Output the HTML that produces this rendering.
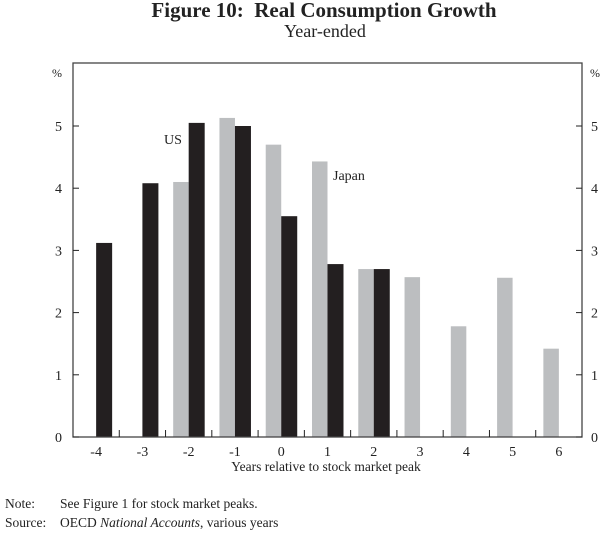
<!DOCTYPE html>
<html><head><meta charset="utf-8"><style>
body{margin:0;background:#fff;}
svg text{font-family:"Liberation Serif",serif;fill:#222;}
</style></head><body>
<svg width="600" height="535" id="c">
<text x="324" y="17" text-anchor="middle" font-size="21" font-weight="bold">Figure 10:&#160; Real Consumption Growth</text>
<text x="325" y="37" text-anchor="middle" font-size="18">Year-ended</text>
<g id="plot"></g>
<text x="326" y="471" text-anchor="middle" font-size="13.5">Years relative to stock market peak</text>
<text x="5" y="508" font-size="13.5">Note:</text>
<text x="60" y="508" font-size="13.5">See Figure 1 for stock market peaks.</text>
<text x="5" y="527" font-size="13.5">Source:</text>
<text x="60" y="527" font-size="13.5">OECD <tspan font-style="italic">National Accounts</tspan>, various years</text>
</svg>
<script>
const categories=[-4,-3,-2,-1,0,1,2,3,4,5,6];
const usValues=[3.12,4.08,5.05,5.0,3.55,2.78,2.7,null,null,null,null];
const japanValues=[null,null,4.1,5.13,4.7,4.43,2.7,2.57,1.78,2.56,1.42];
const yTicks=[0,1,2,3,4,5];
const L=73,R=582,T=63,B=437;
const step=(R-L)/categories.length;
const x=i=>L+step*(i+0.5);
const ns="http://www.w3.org/2000/svg";
const g=document.getElementById('plot');
function mk(t,a){const e=document.createElementNS(ns,t);for(const k in a)e.setAttribute(k,a[k]);g.appendChild(e);return e;}
const yy=v=>B-v*62.2;
japanValues.forEach((v,i)=>{if(v==null)return;const r=mk('rect',{x:x(i)-15.5,y:yy(v),width:15.5,height:B-yy(v),fill:'#bcbec0'});

});
usValues.forEach((v,i)=>{if(v==null)return;const r=mk('rect',{x:x(i),y:yy(v),width:16,height:B-yy(v),fill:'#231f20'});

});
const fr=mk('rect',{x:L,y:T,width:R-L,height:B-T,fill:'none',stroke:'#444','stroke-width':1.3});


yTicks.forEach(v=>{
mk('line',{x1:L,x2:L+6,y1:yy(v),y2:yy(v),stroke:'#222'});
mk('line',{x1:R-6,x2:R,y1:yy(v),y2:yy(v),stroke:'#222'});
const a=mk('text',{x:L-11,y:yy(v)+5,'text-anchor':'end','font-size':14});a.textContent=v;


const b=mk('text',{x:R+9,y:yy(v)+5,'font-size':14});b.textContent=v;


});
const p1=mk('text',{x:L-11,y:77,'text-anchor':'end','font-size':12});p1.textContent='%';


const p2=mk('text',{x:R+8,y:77,'font-size':12});p2.textContent='%';


categories.forEach((c,i)=>{
if(i>0)mk('line',{x1:L+step*i,x2:L+step*i,y1:B,y2:B-7,stroke:'#222'});
const t=mk('text',{x:x(i),y:B+19,'text-anchor':'middle','font-size':14});t.textContent=c;


});
const l1=mk('text',{x:164,y:144,'font-size':14});l1.textContent='US';


const l2=mk('text',{x:333,y:180,'font-size':14});l2.textContent='Japan';


</script>
</body></html>
